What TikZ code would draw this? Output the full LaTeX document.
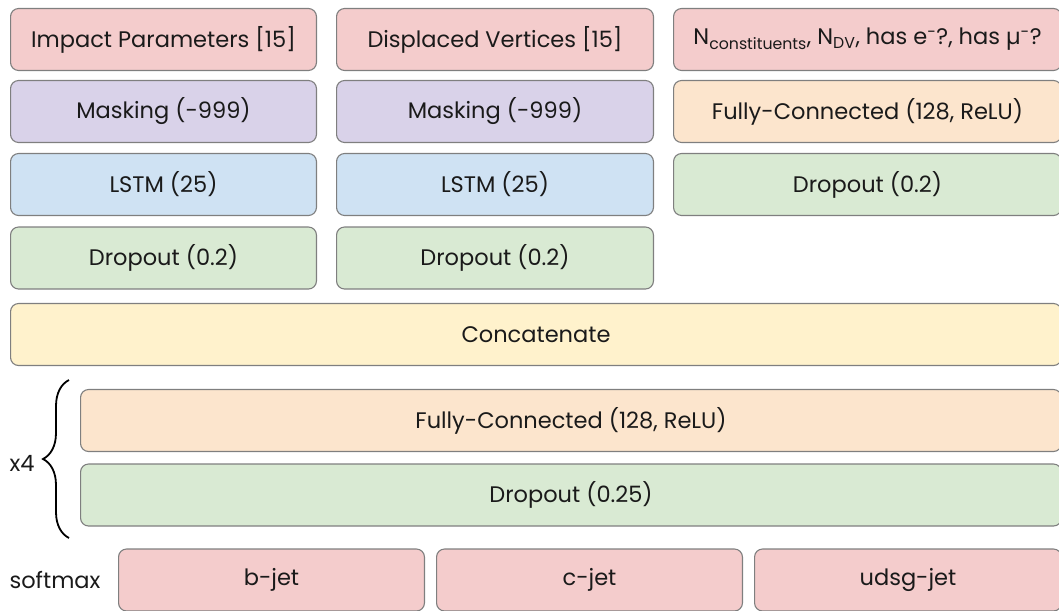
\documentclass[tikz,border=0pt]{standalone}
\usepackage{fontspec}
\setmainfont{Poppins}
\usetikzlibrary{decorations.pathreplacing}

\definecolor{inpink}{HTML}{F4CCCC}
\definecolor{masklav}{HTML}{D9D2E9}
\definecolor{lstmblue}{HTML}{CFE2F3}
\definecolor{dropgreen}{HTML}{D9EAD3}
\definecolor{catyellow}{HTML}{FFF2CC}
\definecolor{fcpeach}{HTML}{FCE5CD}
\definecolor{edgegray}{HTML}{7F7F7F}
\definecolor{inkdark}{HTML}{1A1A1A}

\begin{document}
\begin{tikzpicture}[x=1pt,y=-1pt,
    layer/.style={draw=edgegray,line width=1.1pt,rounded corners=8pt,
      minimum height=62pt,inner sep=0pt,text=inkdark,
      font=\fontsize{22.5}{26}\selectfont},
    col/.style={minimum width=#1-1.1pt},
    label/.style={text=inkdark,font=\fontsize{22.5}{26}\selectfont}]

  \useasboundingbox (0,0) rectangle (1059,610);
  \clip (0,0) rectangle (1059,610);

  % inputs
  \node[layer,col=307,fill=inpink] (ip) at (163.5,39.5) {Impact Parameters [15]};
  \node[layer,col=318,fill=inpink] (dv) at (495,39.5) {Displaced Vertices [15]};
  \node[layer,col=389,fill=inpink] (glob) at (867.5,39.5)
    {N\textsubscript{constituents}, N\textsubscript{DV}, has e\textsuperscript{-}?, has µ\textsuperscript{-}?};

  % branch layers
  \node[layer,col=307,fill=masklav] (ipmask) at (163.5,111.5) {Masking (-999)};
  \node[layer,col=318,fill=masklav] (dvmask) at (495,111.5) {Masking (-999)};
  \node[layer,col=389,fill=fcpeach] (globfc) at (867.5,111.5) {Fully-Connected (128, ReLU)};

  \node[layer,col=307,fill=lstmblue] (iplstm) at (163.5,184.5) {LSTM (25)};
  \node[layer,col=318,fill=lstmblue] (dvlstm) at (495,184.5) {LSTM (25)};
  \node[layer,col=389,fill=dropgreen] (globdrop) at (867.5,184.5) {Dropout (0.2)};

  \node[layer,col=307,fill=dropgreen] (ipdrop) at (163.5,258) {Dropout (0.2)};
  \node[layer,col=318,fill=dropgreen] (dvdrop) at (495,258) {Dropout (0.2)};

  % merged part
  \node[layer,col=1052,fill=catyellow] (concat) at (536,334.5) {Concatenate};
  \node[layer,col=982,fill=fcpeach] (dense) at (571,420.5) {Fully-Connected (128, ReLU)};
  \node[layer,col=982,fill=dropgreen] (densedrop) at (571,495) {Dropout (0.25)};

  \coordinate (bracetop) at (69,380);
  \coordinate (bracebot) at (69,538);
  \draw[line width=1.8pt,decorate,decoration={brace,amplitude=26pt}]
    (bracebot) -- (bracetop);
  \node[label] (times) at (22,463) {x4};

  % outputs
  \node[label] (soft) at (55,580) {softmax};
  \node[layer,col=307,fill=inpink] (bjet) at (271.5,580) {b-jet};
  \node[layer,col=307,fill=inpink] (cjet) at (589.5,580) {c-jet};
  \node[layer,col=308,fill=inpink] (ljet) at (908,580) {udsg-jet};
\end{tikzpicture}
\end{document}
